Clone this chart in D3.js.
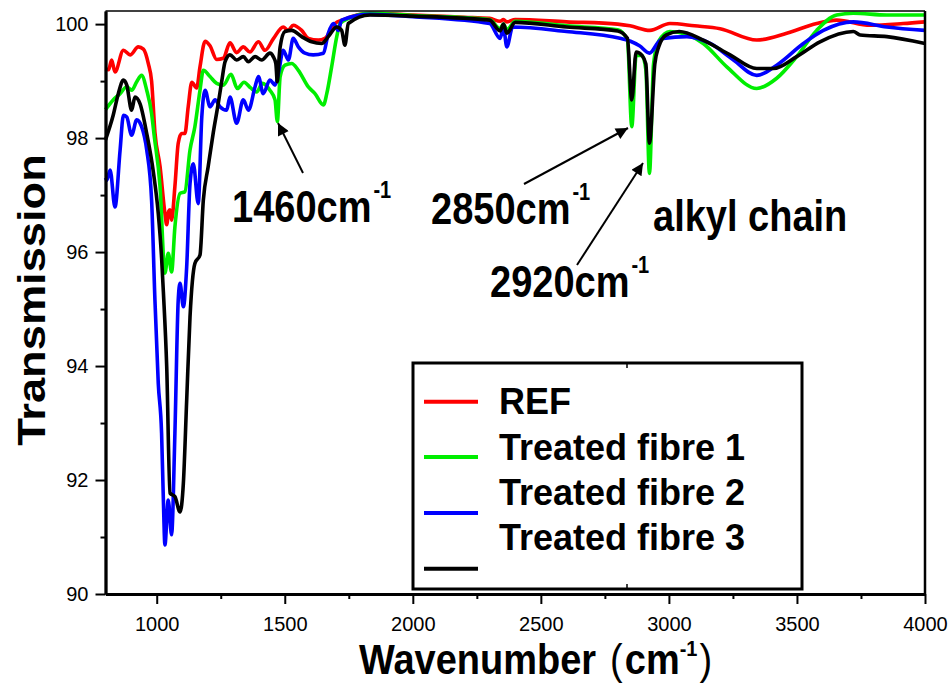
<!DOCTYPE html>
<html>
<head>
<meta charset="utf-8">
<script src="https://cdn.jsdelivr.net/npm/d3@7"></script>
<style>
  body { margin: 0; background: #fff; }
  svg { display: block; font-family: Arial, "Liberation Sans", sans-serif; }
</style>
</head>
<body>
<div id="wrapper"></div>
<script>
// series as [wavenumber, transmission]
var seriesNames = ["REF", "Treated fibre 1", "Treated fibre 2", "Treated fibre 3"];
var seriesColors = ["#ff0000", "#00ee00", "#0000ff", "#000000"];

var refData = [
  [800, 99.22], [812, 99.2], [824, 99.37], [837, 99.16], [870, 99.54], [896, 99.46], [928, 99.6],
  [948, 99.56], [967, 99.31], [980, 99.0], [993, 98.1], [1013, 97.5], [1032, 96.68], [1039, 96.48],
  [1047, 96.72], [1052, 96.74], [1058, 96.56], [1071, 97.15], [1084, 97.91], [1097, 98.08],
  [1110, 98.08], [1123, 98.55], [1137, 98.98], [1156, 98.88], [1169, 99.25], [1189, 99.7],
  [1208, 99.62], [1234, 99.38], [1260, 99.4], [1286, 99.67], [1312, 99.5], [1338, 99.6],
  [1364, 99.51], [1397, 99.69], [1423, 99.54], [1455, 99.74], [1494, 99.95], [1513, 99.89],
  [1533, 99.98], [1566, 99.89], [1592, 99.75], [1631, 99.72], [1657, 99.75], [1696, 100.01],
  [1730, 100.08], [1833, 100.19], [2000, 100.16], [2200, 100.12], [2300, 100.1], [2341, 100.05],
  [2354, 100.08], [2367, 100.04], [2400, 100.08], [2600, 100.04], [2800, 100.0], [2848, 99.97],
  [2926, 99.89], [3004, 100.01], [3100, 99.97], [3200, 99.92], [3343, 99.72], [3460, 99.84],
  [3577, 100.01], [3655, 100.07], [3786, 99.98], [3915, 100.01], [4000, 100.04]
];

var fibre1Data = [
  [800, 98.5], [830, 98.67], [857, 98.78], [883, 98.9], [902, 98.84], [922, 98.99], [941, 99.1],
  [961, 98.84], [980, 98.43], [990, 98.05], [1013, 97.15], [1032, 95.63], [1045, 95.98],
  [1058, 95.65], [1071, 96.44], [1091, 97.03], [1110, 97.06], [1130, 97.79], [1149, 98.2],
  [1169, 98.84], [1182, 99.19], [1208, 99.08], [1234, 98.96], [1260, 98.93], [1290, 99.12],
  [1315, 98.87], [1341, 98.98], [1367, 98.88], [1390, 98.81], [1413, 98.96], [1442, 98.84],
  [1462, 98.67], [1471, 98.29], [1482, 99.08], [1501, 99.28], [1527, 99.31], [1553, 99.19],
  [1592, 98.9], [1618, 98.78], [1651, 98.58], [1664, 98.78], [1683, 99.25], [1703, 99.78],
  [1716, 100.01], [1750, 100.1], [1833, 100.19], [2000, 100.15], [2300, 100.08], [2341, 99.92],
  [2354, 100.0], [2367, 99.9], [2400, 100.05], [2600, 99.97], [2800, 99.9], [2838, 99.72],
  [2855, 98.2], [2872, 99.45], [2895, 99.45], [2910, 99.2], [2924, 97.38], [2940, 99.3],
  [2960, 99.7], [3004, 99.87], [3134, 99.66], [3226, 99.25], [3343, 98.87], [3421, 99.05],
  [3499, 99.43], [3577, 99.89], [3655, 100.16], [3720, 100.19], [3851, 100.16], [4000, 100.16]
];

var fibre2Data = [
  [800, 97.3], [805, 97.26], [818, 97.44], [837, 96.79], [857, 97.79], [870, 98.4], [883, 98.37],
  [902, 98.05], [922, 98.32], [941, 98.2], [961, 97.79], [980, 96.91], [993, 95.16], [1006, 93.7],
  [1019, 92.82], [1026, 91.65], [1032, 90.86], [1045, 91.65], [1058, 91.04], [1071, 92.82],
  [1084, 95.16], [1091, 95.45], [1104, 95.04], [1117, 95.74], [1130, 97.2], [1143, 97.55],
  [1162, 96.85], [1176, 98.37], [1189, 98.84], [1208, 98.55], [1228, 98.67], [1247, 98.55],
  [1273, 98.49], [1286, 98.72], [1312, 98.26], [1338, 98.67], [1358, 98.49], [1384, 98.9],
  [1397, 99.08], [1416, 98.78], [1442, 99.02], [1462, 98.93], [1475, 99.13], [1494, 99.54],
  [1514, 99.37], [1533, 99.75], [1553, 99.6], [1579, 99.49], [1611, 99.46], [1651, 99.49],
  [1670, 99.84], [1690, 100.01], [1709, 99.89], [1722, 100.07], [1833, 100.17], [2000, 100.13],
  [2300, 100.01], [2341, 99.75], [2354, 99.95], [2367, 99.6], [2390, 99.95], [2600, 99.87],
  [2809, 99.75], [2850, 99.7], [2885, 99.62], [2924, 99.49], [2960, 99.69], [2978, 99.75],
  [3070, 99.78], [3161, 99.66], [3252, 99.37], [3343, 99.1], [3421, 99.28], [3525, 99.66],
  [3603, 99.89], [3720, 100.04], [3851, 99.95], [4000, 99.89]
];

var fibre3Data = [
  [800, 97.97], [830, 98.4], [850, 98.78], [870, 99.02], [883, 98.93], [902, 98.49], [915, 98.72],
  [935, 98.6], [961, 98.08], [987, 97.4], [1006, 96.68], [1019, 95.9], [1026, 95.3], [1039, 93.99],
  [1052, 91.77], [1071, 91.71], [1091, 91.44], [1104, 91.94], [1117, 93.4], [1130, 94.86],
  [1149, 95.8], [1169, 95.95], [1182, 96.91], [1201, 97.5], [1221, 98.1], [1240, 98.6],
  [1254, 99.0], [1267, 99.34], [1286, 99.46], [1312, 99.37], [1338, 99.43], [1358, 99.34],
  [1384, 99.43], [1410, 99.37], [1442, 99.49], [1455, 99.43], [1465, 99.31], [1471, 98.99],
  [1476, 99.3], [1482, 99.6], [1501, 99.87], [1527, 99.89], [1566, 99.78], [1605, 99.69],
  [1644, 99.66], [1670, 99.78], [1703, 99.95], [1722, 99.89], [1735, 99.63], [1748, 100.01],
  [1833, 100.16], [2000, 100.14], [2300, 100.07], [2341, 99.88], [2354, 100.0], [2367, 99.84],
  [2400, 100.03], [2600, 99.95], [2800, 99.88], [2838, 99.75], [2855, 98.67], [2872, 99.51],
  [2895, 99.45], [2910, 99.3], [2924, 97.91], [2945, 99.3], [2960, 99.6], [2990, 99.81],
  [3040, 99.87], [3134, 99.72], [3239, 99.46], [3343, 99.22], [3408, 99.22], [3499, 99.43],
  [3590, 99.69], [3720, 99.87], [3747, 99.81], [3851, 99.78], [4000, 99.66]
];

var xMajorTicks = [1000, 1500, 2000, 2500, 3000, 3500, 4000];
var xMinorTicks = [1250, 1750, 2250, 2750, 3250, 3750];
var yMajorTicks = [90, 92, 94, 96, 98, 100];
var yMinorTicks = [91, 93, 95, 97, 99];

var width = 949, height = 684;
var plotLeft = 105.5, plotRight = 925, plotTop = 11, plotBottom = 594;
var stretch = 1.16; // the picture text is a bit taller than wide

var x = d3.scaleLinear().domain([800, 4000]).range([plotLeft, plotRight]);
var y = d3.scaleLinear().domain([90, 100.23]).range([plotBottom, plotTop]);

var svg = d3.select("#wrapper").append("svg")
  .attr("width", width)
  .attr("height", height)
  .attr("viewBox", [0, 0, width, height]);

// curves, black on top
var allData = [refData, fibre1Data, fibre2Data, fibre3Data];
var line = d3.line()
  .x(d => x(d[0]))
  .y(d => y(d[1]))
  .curve(d3.curveMonotoneX);

svg.append("g")
  .selectAll("path")
  .data(allData)
  .join("path")
  .attr("fill", "none")
  .attr("stroke", (d, i) => seriesColors[i])
  .attr("stroke-width", 3.6)
  .attr("stroke-linejoin", "round")
  .attr("d", line);

// frame
svg.append("line").attr("x1", plotLeft).attr("x2", plotRight).attr("y1", plotTop).attr("y2", plotTop)
  .attr("stroke", "#000").attr("stroke-width", 1.5);
svg.append("line").attr("x1", plotRight).attr("x2", plotRight).attr("y1", plotTop).attr("y2", plotBottom)
  .attr("stroke", "#000").attr("stroke-width", 2.5);

// axes
svg.append("g")
  .attr("transform", `translate(0,${plotBottom})`)
  .call(d3.axisBottom(x).tickValues(xMajorTicks).tickSize(10).tickSizeOuter(0).tickPadding(13).tickFormat(d3.format("d")));
svg.append("g")
  .attr("transform", `translate(0,${plotBottom})`)
  .call(d3.axisBottom(x).tickValues(xMinorTicks).tickSize(5).tickSizeOuter(0).tickFormat(""));
svg.append("g")
  .attr("transform", `translate(${plotLeft},0)`)
  .call(d3.axisLeft(y).tickValues(yMajorTicks).tickSize(10).tickSizeOuter(0).tickPadding(7).tickFormat(d3.format("d")));
svg.append("g")
  .attr("transform", `translate(${plotLeft},0)`)
  .call(d3.axisLeft(y).tickValues(yMinorTicks).tickSize(5).tickSizeOuter(0).tickFormat(""));

svg.selectAll(".domain").attr("stroke-width", 2.8);
svg.selectAll(".tick line").attr("stroke-width", 2);
svg.selectAll(".tick text")
  .attr("font-family", "Arial, 'Liberation Sans', sans-serif")
  .attr("font-size", 20)
  .attr("fill", "#000");

// axis titles
svg.append("text")
  .attr("transform", `translate(45,300) rotate(-90) scale(${stretch},1)`)
  .attr("text-anchor", "middle")
  .attr("font-size", 39)
  .attr("font-weight", "bold")
  .text("Transmission");

var xTitle = svg.append("text")
  .attr("transform", `translate(359,674) scale(1,1.12)`)
  .attr("font-size", 38)
  .attr("font-weight", "bold");
xTitle.append("tspan").text("Wavenumber");
xTitle.append("tspan").attr("dx", 14).attr("font-weight", "normal").text("(");
xTitle.append("tspan").attr("dx", 2).text("cm");
xTitle.append("tspan").attr("font-size", 20).attr("dy", -16).text("-1");
xTitle.append("tspan").attr("dy", 16).attr("dx", 2).attr("font-weight", "normal").text(")");

// peak labels
var notes = [
  { x: 232, y: 222, label: "1460cm", sup: "-1" },
  { x: 431, y: 224, label: "2850cm", sup: "-1" },
  { x: 490, y: 297, label: "2920cm", sup: "-1" },
  { x: 653, y: 231, label: "alkyl chain", sup: "" }
];
notes.forEach(function (n) {
  var t = svg.append("text")
    .attr("transform", `translate(${n.x},${n.y}) scale(1,${stretch})`)
    .attr("font-size", 38)
    .attr("font-weight", "bold");
  t.append("tspan").text(n.label);
  if (n.sup) t.append("tspan").attr("font-size", 20).attr("dy", -20.5).attr("dx", 2).text(n.sup);
});

// arrows
var defs = svg.append("defs");
defs.append("marker")
  .attr("id", "head")
  .attr("viewBox", "0 0 10 10")
  .attr("refX", 10).attr("refY", 5)
  .attr("markerWidth", 16).attr("markerHeight", 12)
  .attr("markerUnits", "userSpaceOnUse")
  .attr("orient", "auto")
  .append("path").attr("d", "M0,0 L10,5 L0,10 Z").attr("fill", "#000");

var arrows = [
  [[303, 173], [278, 123]],
  [[524, 184], [628, 128]],
  [[577, 265], [643, 163]]
];
svg.append("g")
  .selectAll("line")
  .data(arrows)
  .join("line")
  .attr("x1", d => d[0][0]).attr("y1", d => d[0][1])
  .attr("x2", d => d[1][0]).attr("y2", d => d[1][1])
  .attr("stroke", "#000")
  .attr("stroke-width", 2)
  .attr("marker-end", "url(#head)");

// legend
var legend = svg.append("g");
legend.append("rect")
  .attr("x", 413).attr("y", 363).attr("width", 389).attr("height", 226)
  .attr("fill", "#fff").attr("stroke", "#000").attr("stroke-width", 3);
legend.append("line").attr("x1", 627).attr("x2", 627).attr("y1", 363).attr("y2", 368).attr("stroke", "#000").attr("stroke-width", 1.5);
legend.append("line").attr("x1", 627).attr("x2", 627).attr("y1", 584).attr("y2", 589).attr("stroke", "#000").attr("stroke-width", 1.5);

var legendLineY = [401.7, 457, 513, 568.7];
var legendTextY = [414, 460, 505, 550];
seriesNames.forEach(function (name, i) {
  legend.append("line")
    .attr("x1", 424).attr("x2", 478)
    .attr("y1", legendLineY[i]).attr("y2", legendLineY[i])
    .attr("stroke", seriesColors[i]).attr("stroke-width", 4);
  legend.append("text")
    .attr("x", 499).attr("y", legendTextY[i])
    .attr("font-size", 36)
    .attr("font-weight", "bold")
    .text(name);
});
</script>
</body>
</html>
